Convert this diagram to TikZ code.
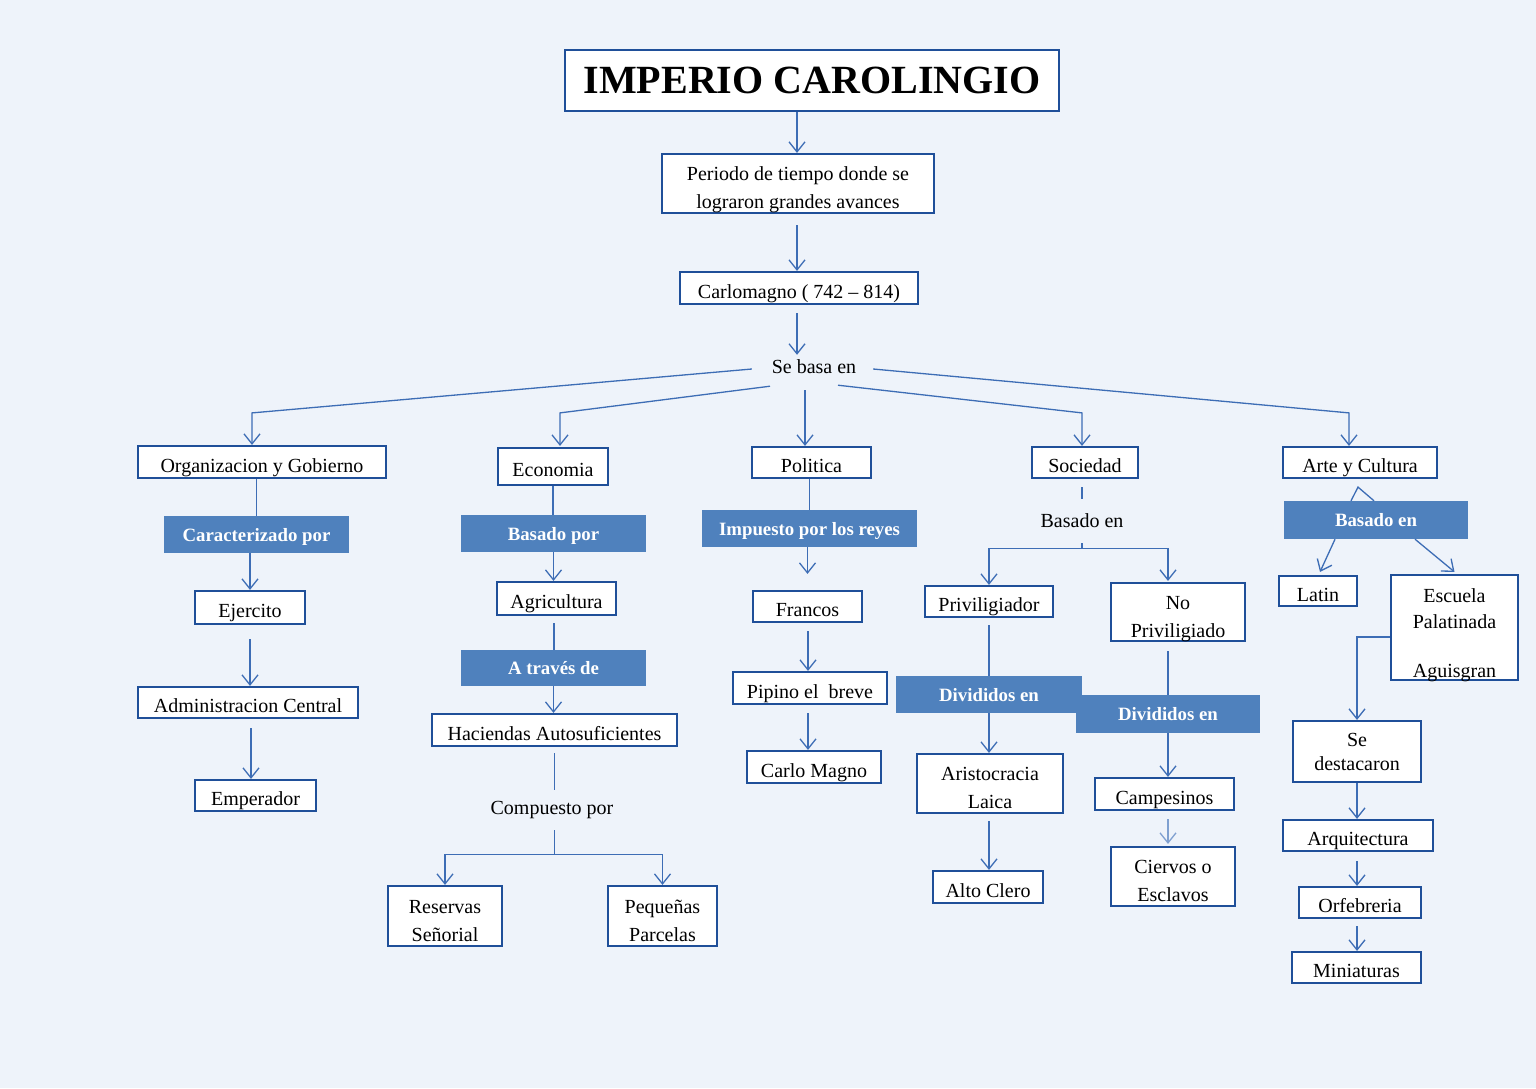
\documentclass[tikz,border=0pt]{standalone}
\usepackage{fontspec}
\setmainfont{Liberation Serif}
\usetikzlibrary{arrows.meta,calc}
\definecolor{bgc}{HTML}{EEF3FA}
\definecolor{bord}{HTML}{1F4F99}
\definecolor{fillc}{HTML}{4F81BD}
\definecolor{conc}{HTML}{3D6DB5}
\definecolor{conl}{HTML}{7FA0D0}
\begin{document}
\begin{tikzpicture}[x=1pt,y=-1pt,
  box/.style={draw=bord, line width=2.2pt, fill=white, inner sep=0pt, align=center,
    text depth=0pt, font=\fontsize{20}{28}\selectfont,
    execute at begin node={\rule{0pt}{20pt}}},
  two/.style={text height=50pt},
  fbox/.style={fill=fillc, draw=none, inner sep=0pt, text=white, text depth=0pt,
    font=\fontsize{18.8}{22}\selectfont\bfseries},
  lbl/.style={inner sep=0pt, font=\fontsize{20}{22}\selectfont},
  con/.style={draw=conc, line width=1.3pt},
  arr/.style={con, -{Straight Barb[length=10pt,width=16pt]}}]
\fill[bgc] (0,0) rectangle (1536,1088);
\useasboundingbox (0,0) rectangle (1536,1088);

% top
\node[box, minimum width=494pt, minimum height=61pt, font=\fontsize{40}{44}\selectfont\bfseries] (title) at (812,80.5) {IMPERIO CAROLINGIO};
\node[box, two, minimum width=272pt, minimum height=59pt] (periodo) at (798,183.5) {Periodo de tiempo donde se\\lograron grandes avances};
\node[box, minimum width=238pt, minimum height=32pt] (carlo) at (799,288) {Carlomagno ( 742 -- 814)};
\node[lbl, minimum width=116pt, minimum height=36pt] (sebasa) at (814,367) {Se basa en};

% row
\node[box, minimum width=248pt, minimum height=32pt] (org) at (262,462) {Organizacion y Gobierno};
\node[box, minimum width=110pt, minimum height=37pt] (eco) at (553,466.5) {Economia};
\node[box, minimum width=119pt, minimum height=31pt] (pol) at (811.5,462.5) {Politica};
\node[box, minimum width=106pt, minimum height=31pt] (soc) at (1085,462.5) {Sociedad};
\node[box, minimum width=154pt, minimum height=31pt] (arte) at (1360,462.5) {Arte y Cultura};

% column 1
\node[fbox, minimum width=185pt, minimum height=37pt] (carac) at (256.5,534.5) {Caracterizado por};
\node[box, minimum width=110pt, minimum height=33pt] (ejer) at (250,607.5) {Ejercito};
\node[box, minimum width=220pt, minimum height=31pt] (admin) at (248,702.5) {Administracion Central};
\node[box, minimum width=121pt, minimum height=31pt] (emp) at (255.5,795.5) {Emperador};

% column 2
\node[fbox, minimum width=185pt, minimum height=37pt] (basadopor) at (553.5,533.5) {Basado por};
\node[box, minimum width=119pt, minimum height=33pt] (agri) at (556.5,598.5) {Agricultura};
\node[fbox, minimum width=185pt, minimum height=36pt] (atraves) at (553.5,668) {A través de};
\node[box, minimum width=245pt, minimum height=32pt] (haci) at (554.5,730) {Haciendas Autosuficientes};
\node[lbl, minimum height=40pt] (compuesto) at (552,810) {Compuesto por};
\node[box, two, minimum width=114pt, minimum height=60pt] (reservas) at (445,916) {Reservas\\Señorial};
\node[box, two, minimum width=109pt, minimum height=60pt] (pequenas) at (662.5,916) {Pequeñas\\Parcelas};

% column 3
\node[fbox, minimum width=215pt, minimum height=37pt] (impuesto) at (809.5,528.5) {Impuesto por los reyes};
\node[box, minimum width=109pt, minimum height=31pt] (francos) at (807.5,606.5) {Francos};
\node[box, minimum width=154pt, minimum height=32pt] (pipino) at (810,688) {Pipino el~ breve};
\node[box, minimum width=134pt, minimum height=32pt] (carlomagno2) at (814,767) {Carlo Magno};

% column 4
\node[lbl, minimum height=44pt] (basadoen) at (1082,521) {Basado en};
\node[box, minimum width=128pt, minimum height=31pt] (privi) at (989,601.5) {Priviligiador};
\node[box, two, minimum width=134pt, minimum height=58pt] (nopriv) at (1178,612) {No\\Priviligiado};
\node[fbox, minimum width=186pt, minimum height=37pt] (div1) at (989,694.5) {Divididos en};
\node[fbox, minimum width=184pt, minimum height=38pt] (div2) at (1168,714) {Divididos en};
\node[box, two, minimum width=146pt, minimum height=59pt] (aristo) at (990,783.5) {Aristocracia\\Laica};
\node[box, minimum width=110pt, minimum height=32pt] (alto) at (988,887) {Alto Clero};
\node[box, minimum width=139pt, minimum height=32pt] (campes) at (1164.5,794) {Campesinos};
\node[box, two, minimum width=124pt, minimum height=59pt] (ciervos) at (1173,876.5) {Ciervos o\\Esclavos};

% column 5
\node[fbox, minimum width=184pt, minimum height=38pt] (basadoen2) at (1376,520) {Basado en};
\node[box, minimum width=78pt, minimum height=30pt] (latin) at (1318,591) {Latin};
\node[box, text height=99pt, minimum width=127pt, minimum height=105pt] (escuela) at (1454.5,627.5) {Escuela\\[-2pt]Palatinada\\[21pt]Aguisgran};
\node[box, minimum width=128pt, minimum height=61pt] (sedest) at (1357,751.5) {Se\\[-4pt]destacaron};
\node[box, minimum width=150pt, minimum height=31pt] (arqui) at (1358,835.5) {Arquitectura};
\node[box, minimum width=122pt, minimum height=31pt] (orfe) at (1360,902.5) {Orfebreria};
\node[box, minimum width=129pt, minimum height=31pt] (mini) at (1356.5,967.5) {Miniaturas};

% connectors top
\draw[arr] ($(title.south)+(-15,0)$) -- ($(periodo.north)+(-1,0)$);
\draw[arr] ($(periodo.south)+(-1,11)$) -- ($(carlo.north)+(-2,0)$);
\draw[arr] ($(carlo.south)+(-2,8)$) -- ($(sebasa.north)+(-17,6)$);

% fan
\draw[arr] ($(sebasa.west)+(-4,2)$) -- ($(org.north)+(-10,-32)$) -- ($(org.north)+(-10,0)$);
\draw[arr] ($(sebasa.south)+(-44,1)$) -- ($(eco.north)+(7,-34)$) -- ($(eco.north)+(7,-1)$);
\draw[arr] ($(sebasa.south)+(-9,5)$) -- ($(pol.north)+(-6.5,0)$);
\draw[arr] ($(sebasa.south)+(24,0)$) -- ($(soc.north)+(-3,-33)$) -- ($(soc.north)+(-3,0)$);
\draw[arr] ($(sebasa.east)+(1,2)$) -- ($(arte.north)+(-11,-33)$) -- ($(arte.north)+(-11,0)$);

% column 1
\draw[con] (org.south -| carac.north) -- (carac.north);
\draw[arr] (carac.south -| ejer.north) -- (ejer.north);
\draw[arr] ($(ejer.south)+(0,14)$) -- (admin.north -| ejer.south);
\draw[arr] ($(admin.south)+(3,9)$) -- ($(emp.north)+(-4.5,0)$);

% column 2
\draw[con] (eco.south) -- (basadopor.north -| eco.south);
\draw[arr] (basadopor.south) -- (agri.north -| basadopor.south);
\draw[con] ($(agri.south)+(-2.5,7)$) -- ($(atraves.north)+(0.5,0)$);
\draw[arr] (atraves.south) -- (haci.north -| atraves.south);
\draw[con] ($(haci.south)+(0,6)$) -- (compuesto.north -| haci.south);
\coordinate (fk2) at ($(compuesto.south)+(2.5,24)$);
\draw[con] ($(compuesto.south)+(2.5,0)$) -- (fk2);
\draw[arr] (fk2) -| (reservas.north);
\draw[arr] (fk2) -| (pequenas.north);

% column 3
\draw[con] (pol.south -| impuesto.north) -- (impuesto.north);
\draw[arr] (impuesto.south -| francos.north) -- ($(francos.north)+(0,-16)$);
\draw[arr] ($(francos.south)+(0.5,8)$) -- ($(pipino.north)+(-2,0)$);
\draw[arr] ($(pipino.south)+(-2,8)$) -- ($(carlomagno2.north)+(-6,0)$);

% column 4
\draw[con] ($(soc.south)+(-3,8)$) -- (basadoen.north);
\coordinate (fk) at ($(basadoen.south)+(0,5)$);
\draw[con] (basadoen.south) -- (fk);
\draw[arr] (fk) -| (privi.north);
\draw[arr] (fk) -| ($(nopriv.north)+(-10,-1)$);
\draw[con] ($(privi.south)+(0,7)$) -- (div1.north -| privi.south);
\draw[arr] (div1.south) -- (aristo.north -| div1.south);
\draw[arr] ($(aristo.south)+(-1,7)$) -- ($(alto.north)+(1,0)$);
\draw[con] ($(nopriv.south)+(-10,9)$) -- (div2.north);
\draw[arr] (div2.south) -- ($(campes.north)+(3.5,0)$);
\draw[arr, draw=conl] ($(campes.south)+(3.5,8)$) -- ($(ciervos.north)+(-5,-2)$);

% column 5
\draw[con] ($(basadoen2.north)+(-25,0)$) -- ($(arte.south)+(-2,8)$) -- ($(basadoen2.north)+(-2,0)$);
\draw[arr] ($(basadoen2.south)+(-41,0)$) -- ($(latin.north)+(2,-3)$);
\draw[arr] ($(basadoen2.south)+(39,0)$) -- ($(escuela.north)+(0,-2)$);
\draw[arr] ($(escuela.west)+(0,9.5)$) -| (sedest.north);
\draw[arr] (sedest.south) -- (arqui.north -| sedest.south);
\draw[arr] ($(arqui.south)+(-1,9)$) -- ($(orfe.north)+(-3,0)$);
\draw[arr] ($(orfe.south)+(-3,7)$) -- ($(mini.north)+(0.5,0)$);
\end{tikzpicture}
\end{document}
